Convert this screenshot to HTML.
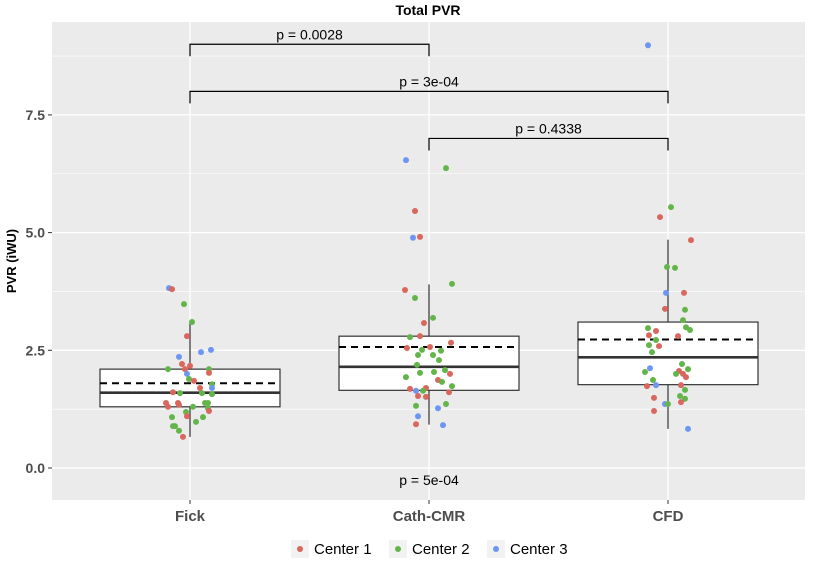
<!DOCTYPE html>
<html><head><meta charset="utf-8"><style>
body{margin:0;background:#fff;}
svg{display:block;font-family:"Liberation Sans",sans-serif;}
</style></head><body>
<svg id="chart" width="813" height="561"></svg>
<script>
const categories=["Fick","Cath-CMR","CFD"];
const yTicks=[0,2.5,5,7.5];
const yTickLabels=["0.0","2.5","5.0","7.5"];
const boxQ1=[1.30,1.65,1.77];
const boxMed=[1.60,2.15,2.35];
const boxQ3=[2.10,2.80,3.10];
const boxMean=[1.80,2.57,2.73];
const whiskLo=[0.66,0.92,0.83];
const whiskHi=[3.10,3.90,4.85];
const fickV=[3.82,3.80,3.48,3.10,2.80,2.36,2.46,2.51,2.21,2.10,2.17,2.10,2.10,2.02,2.00,1.89,1.85,1.78,1.70,1.70,1.61,1.59,1.59,1.57,1.38,1.30,1.38,1.34,1.38,1.38,1.27,1.21,1.30,1.19,1.10,1.08,1.08,0.98,0.89,0.89,0.79,0.66];
const fickDx=[-21,-18,-6,2,-3,-11,11,21,-8,-5,0,-22,19,19,-3,-1,4,22,10,22,-17,-10,12,22,-24,-22,-12,-11,15,18,18,19,3,-4,-3,-18,13,6,-17,-15,-11,-7];
const fickC=[3,1,2,2,1,3,3,3,1,1,1,2,2,1,3,2,1,2,1,3,1,2,2,2,1,1,1,1,2,2,2,1,2,2,1,2,2,2,2,2,2,1];
const cathV=[6.54,6.37,5.46,4.89,4.91,3.78,3.91,3.61,3.19,3.08,2.78,2.80,2.66,2.55,2.57,2.51,2.49,2.40,2.40,2.29,2.19,2.08,2.00,2.02,2.04,1.93,1.87,1.83,1.74,1.68,1.64,1.70,1.64,1.61,1.53,1.51,1.32,1.27,1.36,1.10,0.93,0.91];
const cathDx=[-23,17,-14,-16,-9,-24,23,-14,4,-5,-19,-9,22,-22,1,-7,12,-11,4,10,-12,16,21,-9,5,-23,9,13,23,-19,-13,-3,-6,20,-11,-3,-13,9,17,-11,-13,14];
const cathC=[3,2,1,3,1,1,2,2,2,1,2,1,1,1,1,2,2,2,2,2,2,2,1,2,2,2,1,2,2,1,3,1,2,1,1,1,2,3,2,3,1,3];
const cfdV=[8.98,5.54,5.33,4.84,4.27,4.25,3.72,3.72,3.38,3.36,3.14,2.99,2.93,2.97,2.91,2.82,2.80,2.72,2.61,2.59,2.46,2.21,2.12,2.04,2.10,2.06,2.00,2.00,1.93,1.87,1.74,1.76,1.76,1.66,1.49,1.53,1.47,1.40,1.36,1.36,1.21,0.83];
const cfdDx=[-20,3,-8,23,-1,7,-2,16,-3,17,15,18,22,-20,-12,-19,10,-12,-19,-9,-16,14,-18,-23,20,11,8,15,18,-15,-21,-12,13,17,-14,12,17,13,-3,0,-14,20];
const cfdC=[3,2,1,1,2,2,3,1,1,2,2,2,2,2,1,1,1,2,2,1,2,2,3,2,2,1,2,1,1,2,1,3,1,2,1,2,2,1,3,2,1,3];
const pLabels=["p = 0.0028","p = 3e-04","p = 0.4338"];
const pPairs=[[0,1],[0,2],[1,2]];
const pLevels=[9.0,8.0,7.0];
const globalP="p = 5e-04";
const legendLabels=["Center 1","Center 2","Center 3"];

const NS="http://www.w3.org/2000/svg";
const svg=document.getElementById("chart");
const PL=52,PR=805,PT=22,PB=500;
const y=v=>468-v*47.08;
const x=i=>190+i*239;
const cols=["#D9675E","#63B54A","#6C96F2"];
function mk(tag,attrs,parent){const e=document.createElementNS(NS,tag);for(const k in attrs)e.setAttribute(k,attrs[k]);(parent||svg).appendChild(e);return e;}
let e;
e=mk("rect",{x:PL,y:PT,width:PR-PL,height:PB-PT,fill:"#EBEBEB"});


for(let v=-1.25;v<=9.5;v+=2.5){if(y(v)>PT&&y(v)<PB){e=mk("line",{x1:PL,x2:PR,y1:y(v),y2:y(v),stroke:"#fff","stroke-width":0.6});

}}
yTicks.forEach((v,i)=>{
e=mk("line",{x1:PL,x2:PR,y1:y(v),y2:y(v),stroke:"#fff","stroke-width":1.3});


e=mk("line",{x1:PL-4,x2:PL,y1:y(v),y2:y(v),stroke:"#333","stroke-width":1});


e=mk("text",{x:PL-7,y:y(v)+5,"text-anchor":"end","font-size":14,"font-weight":"bold",fill:"#4d4d4d"});e.textContent=yTickLabels[i];


});
categories.forEach((c,i)=>{
e=mk("line",{x1:x(i),x2:x(i),y1:PT,y2:PB,stroke:"#fff","stroke-width":1.3});


e=mk("line",{x1:x(i),x2:x(i),y1:PB,y2:PB+4,stroke:"#333"});


e=mk("text",{x:x(i),y:PB+21,"text-anchor":"middle","font-size":15,"font-weight":"bold",fill:"#4d4d4d"});e.textContent=c;


});
categories.forEach((c,i)=>{
e=mk("line",{x1:x(i),x2:x(i),y1:y(whiskHi[i]),y2:y(whiskLo[i]),stroke:"#333","stroke-width":1.2});


e=mk("rect",{x:x(i)-90,y:y(boxQ3[i]),width:180,height:y(boxQ1[i])-y(boxQ3[i]),fill:"#fff",stroke:"#333","stroke-width":1.2});


e=mk("line",{x1:x(i)-90,x2:x(i)+90,y1:y(boxMed[i]),y2:y(boxMed[i]),stroke:"#333","stroke-width":2.6});


e=mk("line",{x1:x(i)-90,x2:x(i)+90,y1:y(boxMean[i]),y2:y(boxMean[i]),stroke:"#000","stroke-width":2,"stroke-dasharray":"7,5"});


});
[[fickV,fickDx,fickC],[cathV,cathDx,cathC],[cfdV,cfdDx,cfdC]].forEach((g,i)=>{
g[0].forEach((v,j)=>{
e=mk("circle",{cx:x(i)+g[1][j],cy:y(v),r:3,fill:cols[g[2][j]-1]});


});});
pPairs.forEach((p,k)=>{
const yy=y(pLevels[k]);
e=mk("path",{d:`M${x(p[0])},${yy+12}V${yy}H${x(p[1])}V${yy+12}`,fill:"none",stroke:"#000","stroke-width":1.2});


e=mk("text",{x:(x(p[0])+x(p[1]))/2,y:yy-5,"text-anchor":"middle","font-size":14,fill:"#000"});e.textContent=pLabels[k];


});
e=mk("text",{x:x(1),y:485,"text-anchor":"middle","font-size":14,fill:"#000"});e.textContent=globalP;


e=mk("text",{x:428,y:15,"text-anchor":"middle","font-size":14,"font-weight":"bold"});e.textContent="Total PVR";


e=mk("text",{x:0,y:0,"text-anchor":"middle","font-size":13,"font-weight":"bold",transform:"translate(16,261) rotate(-90)"});e.textContent="PVR (iWU)";


legendLabels.forEach((l,i)=>{
const lx=291+i*98;
e=mk("rect",{x:lx,y:540,width:18,height:18,fill:"#F2F2F2"});


e=mk("circle",{cx:lx+9,cy:549,r:3,fill:cols[i]});


e=mk("text",{x:lx+23,y:554,"font-size":15,fill:"#000"});e.textContent=l;


});
</script>
</body></html>
